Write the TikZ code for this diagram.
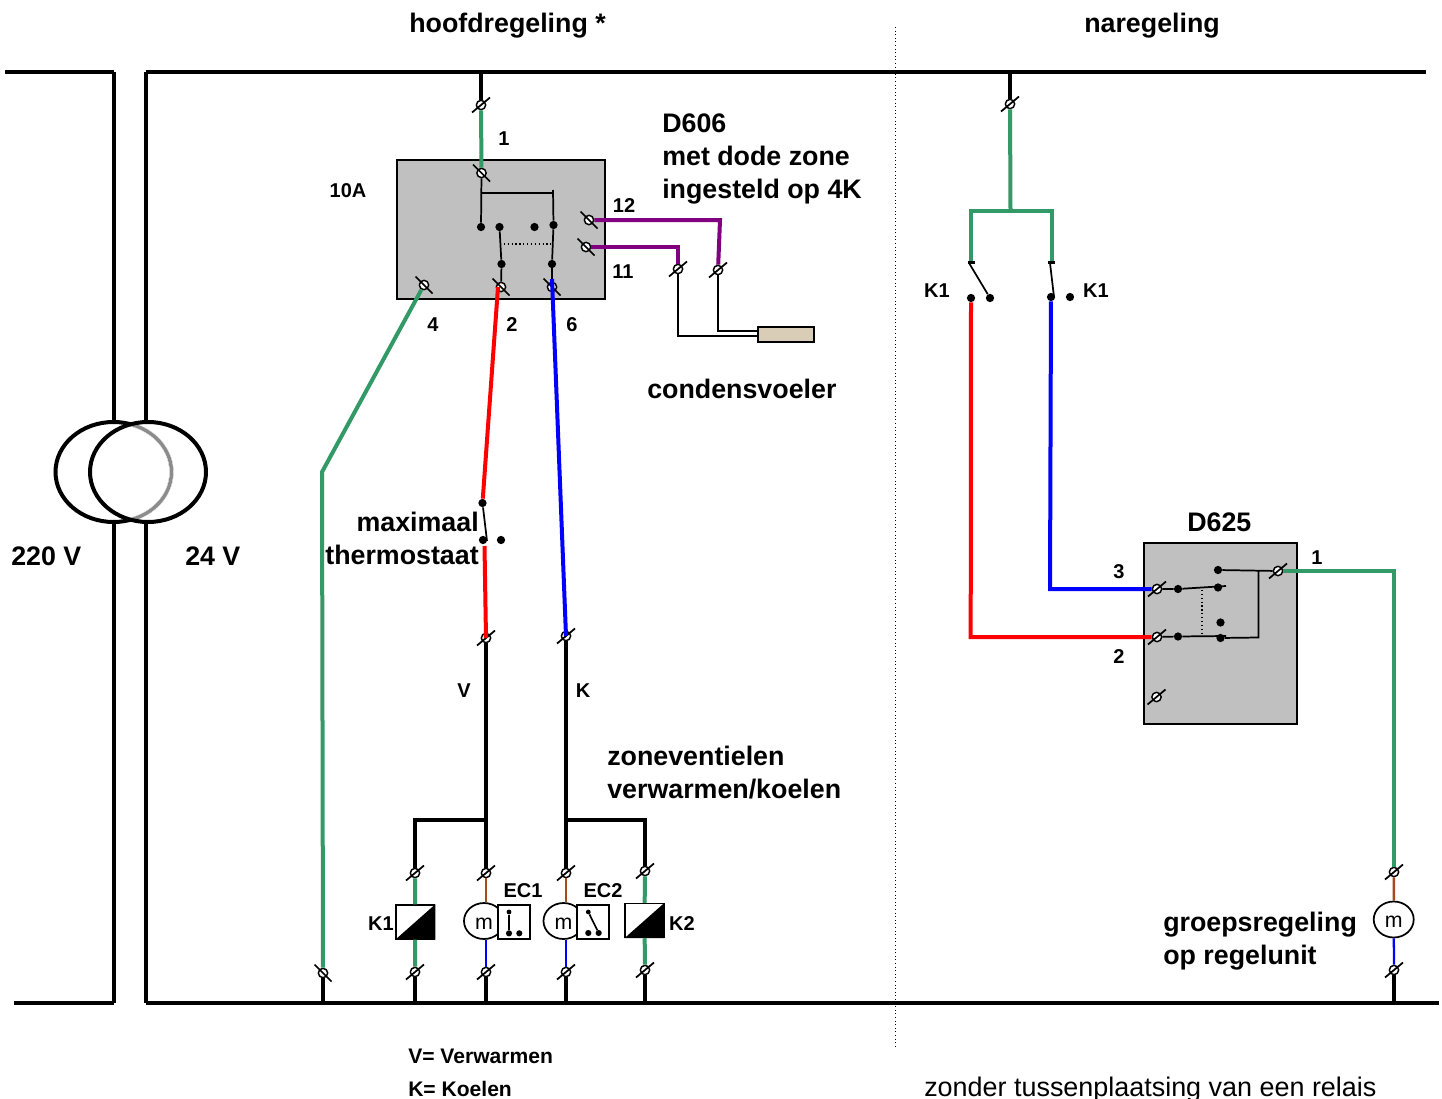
\documentclass[tikz,border=0pt]{standalone}
\usepackage{fontspec}
\setmainfont{Liberation Sans}
\usetikzlibrary{shapes.geometric,calc}
\definecolor{wgreen}{HTML}{339966}
\definecolor{wpurple}{HTML}{800080}
\definecolor{wbrown}{HTML}{A8481C}
\definecolor{unitgray}{HTML}{C0C0C0}
\definecolor{sensorbeige}{HTML}{D9CDB8}
\tikzset{
  big/.style={font=\fontsize{20.1}{24.75}\selectfont\bfseries,inner sep=0pt,align=left,anchor=north west},
  small/.style={font=\fontsize{15}{18}\selectfont\bfseries,inner sep=0pt},
  legendtext/.style={font=\fontsize{15.8}{18}\selectfont\bfseries,inner sep=0pt,anchor=base west},
  unitbox/.style={draw=black,line width=1.5pt,fill=unitgray,minimum width=0pt,minimum height=0pt,inner sep=0pt},
  termnode/.style={circle,draw=black,fill=white,line width=1.1pt,minimum size=7pt,inner sep=0pt},
  slashline/.style={black,line width=1.3pt},
  dotnode/.style={circle,fill=black,minimum size=6.2pt,inner sep=0pt},
  rail/.style={black,line width=3pt},
  greenw/.style={wgreen,line width=3pt},
  redw/.style={red,line width=3pt},
  bluew/.style={blue,line width=3pt},
  purplew/.style={wpurple,line width=3pt},
  thinw/.style={black,line width=1.3pt},
  brownw/.style={wbrown,line width=1.9pt},
  bluethin/.style={blue,line width=1.7pt},
  motor/.style={ellipse,draw=black,fill=white,line width=1.3pt,minimum width=30pt,minimum height=27pt,inner sep=0pt,font=\fontsize{16}{18}\selectfont},
  ecbox/.style={draw=black,fill=white,line width=1.1pt,minimum width=24pt,minimum height=25.5pt,inner sep=0pt},
  coil/.style={draw=black,fill=white,line width=1.1pt,minimum width=29pt,minimum height=25.5pt,inner sep=0pt},
  ecdot/.style={dotnode,minimum size=4.6pt},
}
% terminal whose slash falls to the right, as a backslash
\newcommand{\termR}[3]{\node[termnode] (#1) at (#2,#3) {};\draw[slashline] ($(#1.center)+(-8.5,-8.5)$) -- ($(#1.center)+(8.5,8.5)$);}
% terminal whose slash rises to the right, as a forward slash
\newcommand{\termL}[3]{\node[termnode] (#1) at (#2,#3) {};\draw[slashline] ($(#1.center)+(-9,7.5)$) -- ($(#1.center)+(9,-7.5)$);}
\newcommand{\dotn}[3]{\node[dotnode] (#1) at (#2,#3) {};}
\newcommand{\mtext}{\smash{\raisebox{-6pt}{m}}}
\begin{document}
\begin{tikzpicture}[x=0.75pt,y=-0.75pt]
\path[use as bounding box,fill=white] (0,0) rectangle (1442,1099);

% separator
\draw[black,line width=0.7pt,dotted] (895,27) -- (895,1048);

% rails
\coordinate (topL0) at (5,72); \coordinate (topL1) at (114,72);
\coordinate (topR0) at (146,72); \coordinate (topR1) at (1426,72);
\coordinate (botL0) at (14,1003); \coordinate (botL1) at (114,1003);
\coordinate (botR0) at (146,1003); \coordinate (botR1) at (1439,1003);
\draw[rail] (topL0) -- (topL1);
\draw[rail] (topR0) -- (topR1);
\draw[rail] (botL0) -- (botL1);
\draw[rail] (botR0) -- (botR1);

% transformer
\node[ellipse,draw=black,line width=3pt,minimum width=87pt,minimum height=75pt,inner sep=0pt] (primary) at (113.5,472) {};
\draw[white,line width=3.4pt] (113.5,472) ++(72.7:58 and -50) arc[start angle=72.7,end angle=-72.7,x radius=58,y radius=-50];
\draw[black!45,line width=2.6pt] (113.5,472) ++(72.7:58 and -50) arc[start angle=72.7,end angle=-72.7,x radius=58,y radius=-50];
\node[ellipse,draw=black,line width=3pt,minimum width=87pt,minimum height=75pt,inner sep=0pt] (secondary) at (148,472) {};
\coordinate (pTop) at (114,422); \coordinate (pBot) at (114,521);
\coordinate (sTop) at (146,422); \coordinate (sBot) at (146,521);
\draw[rail] (topL1) -- (pTop);
\draw[rail] (pBot) -- (botL1);
\draw[rail] (topR0) -- (sTop);
\draw[rail] (sBot) -- (botR0);

% D606 unit
\node[unitbox,minimum width=156.5pt,minimum height=104pt] (d606) at (501,229.5) {};
\termL{tTop}{481}{105}
\termR{tOne}{481.5}{173}
\termR{tFour}{424}{285}
\termR{tTwo}{501}{287}
\termR{tSix}{552}{287}
\termR{tTwelve}{589}{220}
\termR{tEleven}{586}{247}
\termL{tSa}{678}{269}
\termL{tSb}{718}{270}
\dotn{a1}{481}{227}
\dotn{a2}{499.5}{227}
\dotn{a3}{534.5}{227}
\dotn{a4}{553.5}{225}
\dotn{b2}{501.5}{264}
\dotn{b4}{552}{264}
\coordinate (topA) at (481,72);
\coordinate (jA) at (481.5,193);
\coordinate (jB) at (553,193);
\coordinate (jBt) at (553,190);
\draw[rail] (topA) -- (tTop);
\draw[greenw] (tTop) -- (tOne);
\draw[thinw] (tOne) -- (a1);
\draw[thinw] (jA) -- (jB);
\draw[thinw] (jBt) -- (a4);
\draw[thinw] (a2) -- (b2);
\draw[thinw] (b2) -- (tTwo);
\draw[thinw] (a4) -- (b4);
\draw[thinw] (b4) -- (tSix);
\coordinate (mlA) at (500,244); \coordinate (mlB) at (552,244);
\draw[black,line width=0.9pt,dotted] (mlA) -- (mlB);

% sensor
\node[draw=black,fill=sensorbeige,line width=1.1pt,minimum width=42pt,minimum height=11.25pt,inner sep=0pt] (sensor) at (786,334.5) {};
\coordinate (pA) at (720,221); \coordinate (pB) at (678,247);
\coordinate (sIn1) at (758,331); \coordinate (sIn2) at (758,336);
\draw[purplew,line join=miter] (tTwelve) -- (tTwelve -| pA) -- (tSb);
\draw[purplew,line join=miter] (tEleven) -- (tEleven -| pB) -- (tSa);
\draw[thinw] (tSb) |- (sIn1);
\draw[thinw] (tSa) |- (sIn2);

% left feeds
\coordinate (gBend) at (322,472);
\termR{tGnd}{323}{973}
\coordinate (gndG) at (323,1003);
\draw[greenw,line join=round] (tFour) -- (gBend) -- (tGnd);
\draw[rail] (tGnd) -- (gndG);

\dotn{mt1}{482.5}{503}
\dotn{mt2}{483}{540}
\dotn{mt3}{501}{540}
\coordinate (mtEnd) at (487,541);
\coordinate (mtOut) at (484.5,546);
\termL{tV}{486}{638}
\termL{tK}{566}{636}
\coordinate (redS) at (498,287);
\coordinate (blueS) at (552,279);
\draw[redw] (redS) -- (mt1);
\draw[thinw] (mt1) -- (mtEnd);
\draw[redw] (mtOut) -- (tV.center);
\draw[bluew] (blueS) -- (tK.center);

% bottom group
\termL{tK1a}{415}{873}
\termL{tE1a}{486}{873}
\termL{tE2a}{566}{873}
\termL{tK2a}{645}{871}
\termL{tK1b}{415}{972}
\termL{tE1b}{486}{972}
\termL{tE2b}{566}{972}
\termL{tK2b}{645}{970}
\draw[rail] (tV) -- (tE1a);
\draw[rail] (tK) -- (tE2a);
\coordinate (jV) at (486,820); \coordinate (jK) at (566,820);
\coordinate (jVl) at (415,820); \coordinate (jKr) at (645,820);
\draw[rail,line join=miter] (jV) -- (jVl) -- (tK1a);
\draw[rail,line join=miter] (jK) -- (jKr) -- (tK2a);
\node[coil] (k1) at (415.3,922) {};
\fill[black] (k1.south west) -- (k1.north east) -- (k1.south east) -- cycle;
\node[coil] (k2) at (644.5,920.5) {};
\fill[black] (k2.south west) -- (k2.north east) -- (k2.south east) -- cycle;
\node[motor] (m1) at (484,921) {\mtext};
\node[motor] (m2) at (563.5,921) {\mtext};
\node[ecbox] (ec1) at (514,922) {};
\node[ecbox] (ec2) at (593,922) {};
\node[ecdot,minimum size=3.6pt] (e1a) at (509,912) {};
\node[ecdot] (e1b) at (509,933.3) {};
\node[ecdot] (e1c) at (519.3,933.3) {};
\node[ecdot,minimum size=3.6pt] (e2a) at (588.3,912) {};
\node[ecdot] (e2b) at (588.3,933) {};
\node[ecdot] (e2c) at (598.7,933) {};
\draw[thinw] (e1a) -- (e1b);
\draw[thinw] (e2a) -- (e2c);
\draw[greenw] (tK1a) -- (k1);
\draw[greenw] (k1) -- (tK1b);
\draw[greenw] (tK2a) -- (k2);
\draw[greenw] (k2) -- (tK2b);
\draw[brownw] (tE1a) -- (tE1a |- m1.north);
\draw[brownw] (tE2a) -- (tE2a |- m2.north);
\draw[bluethin] (tE1a |- m1.south) -- (tE1b);
\draw[bluethin] (tE2a |- m2.south) -- (tE2b);
\foreach \t/\g in {tK1b/g1,tE1b/g2,tE2b/g3,tK2b/g4}{
  \coordinate (\g) at (\t |- botR1);
  \draw[rail] (\t) -- (\g);
}

% naregeling
\termL{tN}{1010}{104}
\coordinate (topN) at (1010,72);
\coordinate (jN) at (1010.5,210.5);
\coordinate (kL) at (970.7,210.5); \coordinate (kR) at (1051.7,210.5);
\coordinate (kLe) at (970.7,262); \coordinate (kRe) at (1051.7,262);
\draw[rail] (topN) -- (tN);
\draw[greenw] (tN) -- (jN);
\draw[greenw,line join=miter] (kLe) -- (kL) -- (kR) -- (kRe);
\dotn{kd1}{971}{298}\dotn{kd2}{990}{298}\dotn{kd3}{1051}{297}\dotn{kd4}{1070}{297}
\coordinate (tkL0) at (967.5,262.5); \coordinate (tkL1) at (975,262.5);
\coordinate (tkR0) at (1047.5,262.5); \coordinate (tkR1) at (1055,262.5);
\draw[black,line width=2pt] (tkL0) -- (tkL1);
\draw[black,line width=2pt] (tkR0) -- (tkR1);
\coordinate (sw1) at (969,263); \coordinate (sw2) at (1050,263); \coordinate (sw2e) at (1054,297);
\draw[thinw] (sw1) -- (kd2);
\draw[thinw] (sw2) -- (sw2e);

% D625 unit
\node[unitbox,minimum width=114.5pt,minimum height=135.5pt] (d625) at (1220.3,633.7) {};
\termL{u3}{1157}{589}
\termL{u2}{1157}{637}
\termL{u0}{1156.5}{697}
\termL{u1}{1278}{571}
\dotn{ud1}{1218}{570}
\dotn{ud2}{1178}{589}
\dotn{ud3}{1218}{587.5}
\dotn{ud4}{1178}{636.5}
\dotn{ud5}{1220.5}{622.5}
\dotn{ud6}{1220.5}{638}
\coordinate (uj) at (1258.5,571);
\coordinate (ujb) at (1258.5,637.5);
\coordinate (ue1) at (1226,586); \coordinate (ue2) at (1226,636);
\draw[thinw] (ud1) -- (u1);
\draw[thinw] (uj) -- (ujb) -- (ud6);
\draw[thinw] (u3) -- (ud2) -- (ue1);
\draw[thinw] (u2) -- (ud4) -- (ue2);
\coordinate (umA) at (1202,590); \coordinate (umB) at (1202,637);
\draw[black,line width=0.9pt,dotted] (umA) -- (umB);
\coordinate (rB) at (970.7,637); \coordinate (bB) at (1050,589);
\draw[redw,line join=miter] (kd1) -- (rB) -- (u2);
\draw[bluew,line join=miter] (kd3) -- (bB) -- (u3);

% group motor
\termL{tM1}{1394}{872}
\termL{tM2}{1394}{970}
\node[motor] (m3) at (1393.7,919.5) {\mtext};
\coordinate (gM) at (1394,1003);
\coordinate (grB) at (1394,571);
\draw[greenw,line join=miter] (u1) -- (grB) -- (tM1);
\draw[brownw] (tM1) -- (m3);
\draw[bluethin] (m3) -- (tM2);
\draw[rail] (tM2) -- (gM);

% texts
\node[big] (thoofd) at (409,13) {hoofdregeling *};
\node[big] (tnare) at (1084,13) {naregeling};
\node[big] (td606) at (662,113.5) {D606\\met dode zone\\ingesteld op 4K};
\node[big] (tcond) at (647,379) {condensvoeler};
\node[big,align=right,anchor=north east] (tmax) at (479,512) {maximaal\\thermostaat};
\node[big] (t220) at (11,546.5) {220 V};
\node[big] (t24) at (185,546.5) {24 V};
\node[big] (tzone) at (607,745.5) {zoneventielen\\verwarmen/koelen};
\node[big] (tgroep) at (1163,912) {groepsregeling\\op regelunit};
\node[big] (td625) at (1187,513) {D625};
\node[small] (l1) at (504,139) {1};
\node[small] (l10a) at (348,191) {10A};
\node[small] (l12) at (624,206) {12};
\node[small] (l11) at (623,272) {11};
\node[small] (l4) at (433,325) {4};
\node[small] (l2) at (512,325) {2};
\node[small] (l6) at (572,325) {6};
\node[small] (lv) at (464,691) {V};
\node[small] (lk) at (583,691) {K};
\node[small] (lec1) at (523,891) {EC1};
\node[small] (lec2) at (603,891) {EC2};
\node[small] (lk1) at (381,924) {K1};
\node[small] (lk2) at (682,924) {K2};
\node[small] (lk1a) at (937,291) {K1};
\node[small] (lk1b) at (1096,291) {K1};
\node[small] (l3r) at (1119,572) {3};
\node[small] (l2r) at (1119,657) {2};
\node[small] (l1r) at (1317,558) {1};
\node[legendtext] (lvv) at (408,1063) {V= Verwarmen};
\node[legendtext] (lkk) at (408,1096) {K= Koelen};
\node[font=\fontsize{20.2}{24}\selectfont,inner sep=0pt,anchor=base west] (lzonder) at (924,1096) {zonder tussenplaatsing van een relais};
\end{tikzpicture}
\end{document}
